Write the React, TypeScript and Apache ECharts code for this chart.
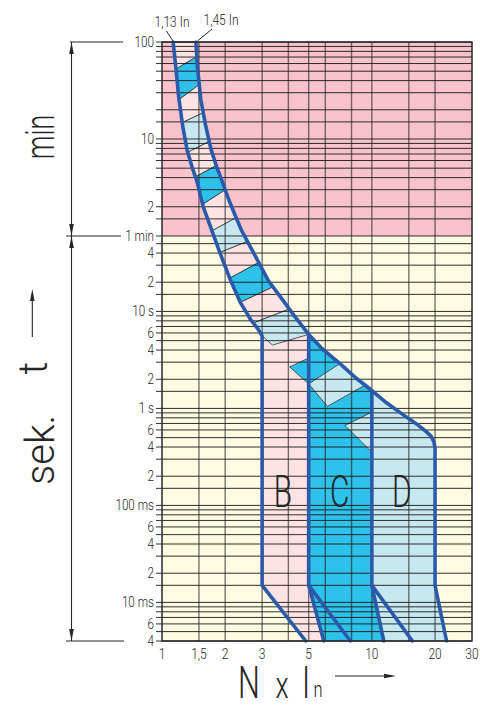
import React, { useEffect, useRef } from 'react';
import * as echarts from 'echarts';

// ---- data (N x In, time in seconds) ----
const leftCurve = [
  [1.13, 6000], [1.167, 3100], [1.2, 1650], [1.255, 815], [1.32, 450], [1.39, 310], [1.47, 217],
  [1.57, 121], [1.72, 70], [1.89, 40], [2.11, 21.5], [2.36, 12.4], [2.64, 8.3], [2.85, 6.7], [3, 5.6],
];
const leftTail = [[3, 0.015], [4.84, 0.004]];
const rightCurve = [
  [1.45, 6000], [1.48, 3100], [1.53, 1540], [1.61, 850], [1.71, 474], [1.82, 311], [1.93, 224],
  [2.07, 146], [2.21, 103], [2.39, 69], [2.64, 46], [2.88, 32.5], [3.22, 20.6], [3.69, 13.9],
  [4.29, 8.9], [5, 5.8], [5.81, 4.1], [7.05, 2.9], [8.37, 2.07], [10, 1.53], [11.7, 1.15],
  [13.8, 0.89], [16.2, 0.7], [18.1, 0.58], [19.2, 0.515], [19.8, 0.446], [20, 0.387],
];
const rightTail = [[20, 0.015], [22.7, 0.004]];
const line5 = [[5, 5.8], [5, 0.015], [5.9, 0.004]];
const line5b = [[5, 0.015], [7.9, 0.004]];
const line10 = [[10, 1.53], [10, 0.015], [11.4, 0.004]];
const line10b = [[10, 0.015], [15.6, 0.004]];

// separators of the striped band: [N left, t left, N right, t right]
const separators = [
  [1.13, 6000, 1.45, 6000],
  [1.166, 3159, 1.467, 4247],
  [1.208, 1535, 1.506, 2184],
  [1.248, 884, 1.571, 1118],
  [1.327, 437, 1.68, 566],
  [1.447, 244, 1.816, 320],
  [1.562, 127, 2.0, 179],
  [1.724, 67.5, 2.256, 92.7],
  [1.884, 40.5, 2.551, 52.6],
  [2.104, 22, 2.889, 32],
  [2.36, 12.4, 3.38, 17.9],
  [2.722, 7.6, 4.047, 10.6],
  [3.36, 4.5, 5, 5.8],
];
const stripeKinds = ['P', 'C', 'P', 'L', 'P', 'C', 'P', 'L', 'P', 'C', 'P', 'L'];

const patchC1 = [[4.06, 2.68], [5, 3.31], [5, 1.79]];
const patchLB2 = [[5, 1.79], [7.05, 2.9], [8.37, 2.07], [9.28, 1.74], [6.14, 1.05]];
const patchLB3 = [[7.44, 0.668], [10, 0.916], [10, 0.354]];

const classLabels = [['B', 3.77, 0.139], ['C', 7.02, 0.139], ['D', 13.9, 0.139]];

const vGrid = [1.5, 2, 3, 4, 5, 6, 8, 10, 15, 20];
const hGrid = [
  6000, 5400, 4800, 4200, 3600, 3000, 2400, 1800, 1200, 900, 600, 540, 480, 420, 360, 300, 240, 180, 120, 90, 60,
  50, 40, 30, 20, 15, 10, 9, 8, 7, 6, 5, 4, 3, 2, 1.5, 1, 0.9, 0.8, 0.7, 0.6, 0.5, 0.4, 0.3, 0.2, 0.15,
  0.1, 0.09, 0.08, 0.07, 0.06, 0.05, 0.04, 0.03, 0.02, 0.015, 0.01, 0.009, 0.008, 0.007, 0.006, 0.005, 0.004,
];
const yLabels: [number, string][] = [
  [6000, '100'], [600, '10'], [120, '2'], [60, '1 min'], [40, '4'], [20, '2'], [10, '10 s'], [6, '6'], [4, '4'],
  [2, '2'], [1, '1 s'], [0.6, '6'], [0.4, '4'], [0.2, '2'], [0.1, '100 ms'], [0.06, '6'], [0.04, '4'],
  [0.02, '2'], [0.01, '10 ms'], [0.006, '6'], [0.004, '4'],
];
const xLabels: [number, string][] = [
  [1, '1'], [1.5, '1,5'], [2, '2'], [3, '3'], [5, '5'], [10, '10'], [20, '20'], [30, '30'],
];

// ---- styles ----
const FONT = "Roboto, 'DejaVu Sans', sans-serif";
const COL: Record<string, string> = { P: '#fde3e3', C: '#2ec1ea', L: '#c7e8f1' };
const BLUE = '#2b5aa8';
const INK = '#262626';

function polySeries(polys: { pts: number[][]; fill: string; stroke?: string; lw?: number }[], z: number) {
  return {
    type: 'custom',
    z,
    silent: true,
    coordinateSystem: 'cartesian2d',
    data: polys.map(() => [2, 1]),
    renderItem: (params: any, api: any) => {
      const p = polys[params.dataIndex];
      return {
        type: 'polygon',
        shape: { points: p.pts.map((q) => api.coord(q)) },
        style: { fill: p.fill, stroke: p.stroke || null, lineWidth: p.lw || 0 },
      };
    },
  };
}

function thick(data: number[][]) {
  return {
    type: 'line',
    z: 6,
    silent: true,
    data,
    showSymbol: false,
    symbol: 'none',
    lineStyle: { color: BLUE, width: 3.6, cap: 'round', join: 'round' },
  };
}

function text(x: number, y: number, str: string, size: number, align: string, valign: string, sx = 0.8, rot = 0) {
  return {
    type: 'text',
    x,
    y,
    scaleX: sx,
    rotation: rot,
    style: {
      text: str, fontSize: size, fontFamily: FONT, fontWeight: 300, fill: INK,
      align, verticalAlign: valign, textAlign: align, textVerticalAlign: valign,
    },
  };
}

function buildOption() {
  const stripes = stripeKinds.map((k, i) => {
    const [aLn, aLt, aRn, aRt] = separators[i];
    const [bLn, bLt, bRn, bRt] = separators[i + 1];
    const pts = [
      [aLn, aLt], [aRn, aRt],
      ...rightCurve.filter((p) => p[1] < aRt && p[1] > bRt),
      [bRn, bRt], [bLn, bLt],
      ...leftCurve.filter((p) => p[1] < aLt && p[1] > bLt).reverse(),
    ];
    return { pts, fill: COL[k], stroke: '#333', lw: 0.8 };
  });
  const cTop = rightCurve.filter((p) => p[0] >= 5 && p[0] <= 10);
  const dTop = rightCurve.filter((p) => p[0] >= 10 && p[0] <= 20);
  const bandB = [[3, 5.6], [5, 5.8], line5[1], line5[2], leftTail[1], leftTail[0]];
  const bandC = [...cTop, line10[1], line10[2], line5[2], line5[1]];
  const bandD = [...dTop, rightTail[0], rightTail[1], line10[2], line10[1]];

  const yTop = 42, yMin = 236, yBot = 641;
  const arrowUp = (x: number, y: number) => ({ type: 'polygon', shape: { points: [[x, y], [x - 2.3, y + 12], [x + 2.3, y + 12]] }, style: { fill: INK } });
  const arrowDown = (x: number, y: number) => ({ type: 'polygon', shape: { points: [[x, y], [x - 2.3, y - 12], [x + 2.3, y - 12]] }, style: { fill: INK } });
  const seg = (x1: number, y1: number, x2: number, y2: number, w = 1.1) => ({ type: 'line', shape: { x1, y1, x2, y2 }, style: { stroke: INK, lineWidth: w } });

  return {
    animation: false,
    backgroundColor: '#ffffff',
    grid: { left: 162, right: 8, top: 42, bottom: 67, show: true, borderColor: '#2a2a2a', borderWidth: 1.5, backgroundColor: 'transparent', z: 7 },
    xAxis: {
      type: 'log', logBase: 10, min: 1, max: 30,
      axisLine: { show: false }, axisTick: { show: false }, axisLabel: { show: false }, splitLine: { show: false },
    },
    yAxis: {
      type: 'log', logBase: 10, min: 0.004, max: 6000,
      axisLine: { show: false }, axisTick: { show: false }, axisLabel: { show: false }, splitLine: { show: false },
    },
    series: [
      polySeries([
        { pts: [[1, 60], [30, 60], [30, 6000], [1, 6000]], fill: '#f8c3cd' },
        { pts: [[1, 0.004], [30, 0.004], [30, 60], [1, 60]], fill: '#fdfbe1' },
      ], 1),
      polySeries([
        { pts: bandB, fill: COL.P },
        { pts: bandC, fill: COL.C },
        { pts: bandD, fill: COL.L },
      ], 2),
      polySeries([
        ...stripes,
        { pts: patchC1, fill: COL.C, stroke: '#333', lw: 0.8 },
        { pts: patchLB2, fill: COL.L, stroke: '#333', lw: 0.8 },
        { pts: patchLB3, fill: COL.L, stroke: '#333', lw: 0.8 },
      ], 3),
      {
        type: 'custom', z: 4, silent: true, coordinateSystem: 'cartesian2d',
        data: hGrid.map((t) => [1, t]),
        renderItem: (params: any, api: any) => {
          const t = hGrid[params.dataIndex];
          const a = api.coord([1, t]);
          const b = api.coord([30, t]);
          return { type: 'line', shape: { x1: a[0] - 6, y1: a[1], x2: b[0], y2: b[1] }, style: { stroke: 'rgba(20,20,20,0.88)', lineWidth: 1 } };
        },
      },
      {
        type: 'custom', z: 4, silent: true, coordinateSystem: 'cartesian2d',
        data: vGrid.map((n) => [n, 1]),
        renderItem: (params: any, api: any) => {
          const n = vGrid[params.dataIndex];
          const a = api.coord([n, 6000]);
          const b = api.coord([n, 0.004]);
          return { type: 'line', shape: { x1: a[0], y1: a[1], x2: b[0], y2: b[1] }, style: { stroke: 'rgba(30,30,30,0.6)', lineWidth: 1.4 } };
        },
      },
      thick([...leftCurve, ...leftTail]),
      thick([...rightCurve, ...rightTail]),
      thick(line5),
      thick(line5b),
      thick(line10),
      thick(line10b),
      {
        type: 'custom', z: 8, silent: true, coordinateSystem: 'cartesian2d',
        data: yLabels.map((l) => [1, l[0]]),
        renderItem: (params: any, api: any) => {
          const l = yLabels[params.dataIndex];
          const p = api.coord([1, l[0]]);
          return text(p[0] - 8, p[1], l[1], 15, 'right', 'middle', 0.78);
        },
      },
      {
        type: 'custom', z: 8, silent: true, coordinateSystem: 'cartesian2d',
        data: xLabels.map((l) => [l[0], 0.004]),
        renderItem: (params: any, api: any) => {
          const l = xLabels[params.dataIndex];
          const p = api.coord([l[0], 0.004]);
          return text(p[0], p[1] + 12, l[1], 15, 'center', 'middle', 0.8);
        },
      },
      {
        type: 'custom', z: 8, silent: true, coordinateSystem: 'cartesian2d',
        data: classLabels.map((l) => [l[1], l[2]]),
        renderItem: (params: any, api: any) => {
          const l = classLabels[params.dataIndex];
          const p = api.coord([l[1], l[2]]);
          return text(p[0], p[1], l[0] as string, 44, 'center', 'middle', 0.68);
        },
      },
    ],
    graphic: [
      // top labels and leaders
      text(172, 21, '1,13 In', 15, 'center', 'middle', 0.8),
      text(221, 19, '1,45 In', 15, 'center', 'middle', 0.8),
      seg(166.5, 31, 173, 41, 1),
      seg(212, 29, 197.5, 41, 1),
      // dimension lines
      seg(70, yTop, 123, yTop),
      seg(66, yMin, 121, yMin),
      seg(66, yBot, 124, yBot),
      seg(71.5, yTop, 71.5, yBot),
      arrowUp(71.5, yTop),
      arrowDown(71.5, yMin),
      arrowUp(71.5, yMin),
      arrowDown(71.5, yBot),
      // left titles
      text(40, 137, 'min', 40, 'center', 'middle', 0.67, Math.PI / 2),
      text(40, 450, 'sek.', 40, 'center', 'middle', 1.0, Math.PI / 2),
      text(33, 368, 't', 40, 'center', 'middle', 1.0, Math.PI / 2),
      seg(32.3, 300, 32.3, 337, 1.1),
      arrowUp(32.3, 289),
      // bottom title
      text(249, 683, 'N', 44, 'center', 'middle', 0.7),
      text(282, 686, 'x', 36, 'center', 'middle', 0.75),
      text(306, 683, 'I', 44, 'center', 'middle', 0.7),
      text(318, 690, 'n', 22, 'center', 'middle', 0.75),
      seg(335, 676, 386, 676, 1.1),
      { type: 'polygon', shape: { points: [[396, 676], [384, 673.7], [384, 678.3]] }, style: { fill: INK } },
    ],
  };
}

export default function App() {
  const ref = useRef<HTMLDivElement>(null);
  useEffect(() => {
    const chart = echarts.init(ref.current as HTMLDivElement, undefined, { renderer: 'svg' });
    chart.setOption(buildOption() as any);
    return () => chart.dispose();
  }, []);
  return <div ref={ref} style={{ position: 'fixed', left: 0, top: 0, width: 480, height: 708 }} />;
}
